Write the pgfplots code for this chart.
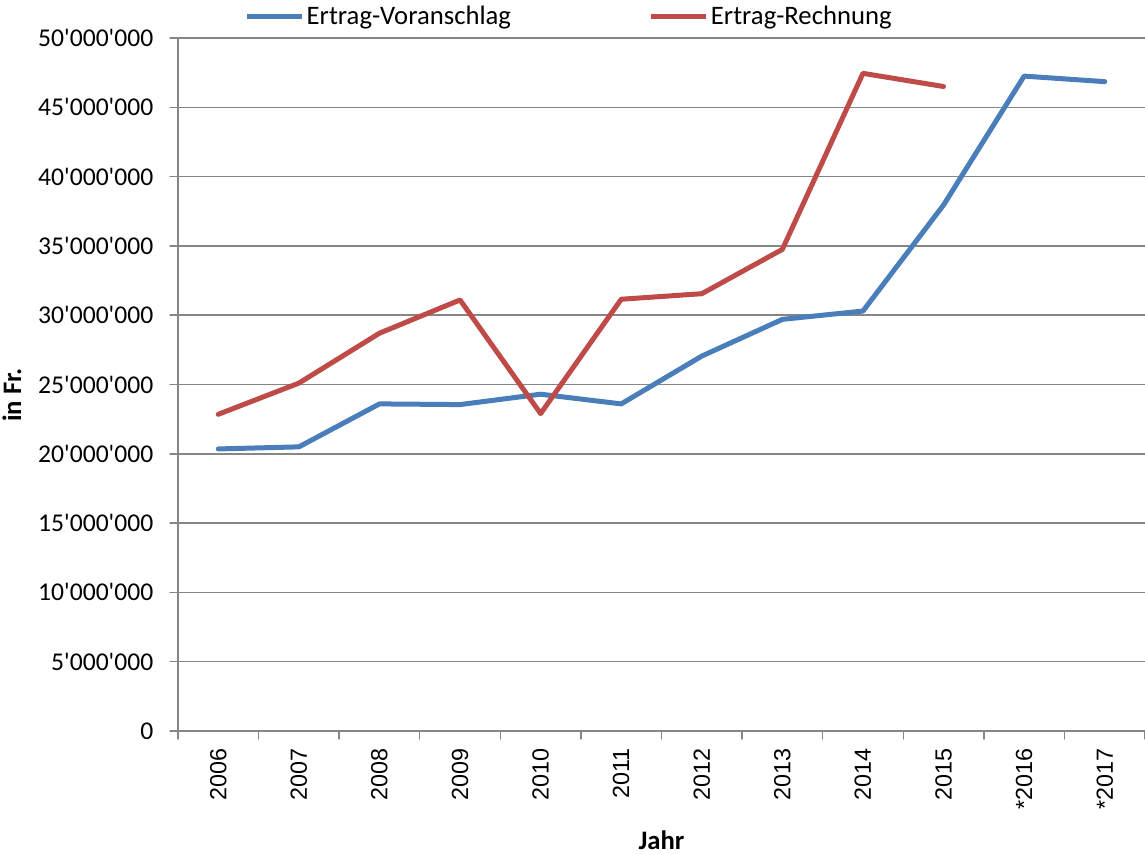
\documentclass[border=0pt]{standalone}
\usepackage{fontspec}
\setmainfont{Carlito}[Ligatures=TeXOff]
\newfontfamily\arialf{Liberation Sans}
\usepackage{pgfplots}
\usepackage{pgfplotstable}
\pgfplotsset{compat=1.18}
\definecolor{ser1}{RGB}{74,126,187}
\definecolor{ser2}{RGB}{190,75,72}
\definecolor{gridc}{RGB}{134,134,134}

\pgfplotstableread{
x v
0 20350000
1 20500000
2 23600000
3 23550000
4 24300000
5 23600000
6 27050000
7 29700000
8 30300000
9 37950000
10 47250000
11 46850000
}\voran

\pgfplotstableread{
x v
0 22850000
1 25100000
2 28700000
3 31100000
4 22900000
5 31150000
6 31550000
7 34750000
8 47450000
9 46500000
}\rechnung

\begin{document}
\begin{tikzpicture}
\begin{axis}[
  scale only axis, width=725.25pt, height=519.75pt,
  xmin=-0.5, xmax=11.5, ymin=0, ymax=50000000,
  scaled y ticks=false,
  axis lines=left, axis line style={gridc, line width=1.1pt, -},
  ytick={0,5000000,10000000,15000000,20000000,25000000,30000000,35000000,40000000,45000000,50000000},
  yticklabels={0,5'000'000,10'000'000,15'000'000,20'000'000,25'000'000,30'000'000,35'000'000,40'000'000,45'000'000,50'000'000},
  xtick={0,1,2,3,4,5,6,7,8,9,10,11},
  xticklabels={2006,2007,2008,2009,2010,2011,2012,2013,2014,2015,*2016,*2017},
  minor xtick={-0.5,0.5,1.5,2.5,3.5,4.5,5.5,6.5,7.5,8.5,9.5,10.5,11.5},
  major x tick style={draw=none},
  tick style={gridc, line width=1.1pt},
  major tick length=6pt, minor tick length=6pt,
  tick align=outside,
  ymajorgrids, grid style={gridc, line width=1.1pt},
  xticklabel style={rotate=90, anchor=east, xshift=-3.75pt, font=\arialf\fontsize{17.5}{20}\selectfont},
  yticklabel style={xshift=-9pt, font=\fontsize{19.2}{23}\selectfont},
  clip=false,
  xlabel={\textbf{Jahr}},
  ylabel={\textbf{in Fr.}},
  every axis x label/.style={at={(rel axis cs:0.5,-0.1573)}, anchor=center, font=\fontsize{20}{24}\selectfont},
  every axis y label/.style={at={(rel axis cs:-0.1717,0.485)}, anchor=center, rotate=90, font=\fontsize{20}{24}\selectfont},
  legend columns=2,
  legend style={at={(rel axis cs:0.0683,1.0317)}, anchor=west, draw=none, fill=none, inner sep=0pt, outer sep=0pt, font=\fontsize{20}{24}\selectfont, /tikz/every even column/.append style={column sep=101pt}},
  legend image code/.code={\draw[#1] (0pt,0pt) -- (41.25pt,0pt);},
  line join=round, line cap=round,
]
\addplot[ser1, line width=3.75pt] table[x=x,y=v] {\voran};
\addlegendentry{Ertrag-Voranschlag}
\addplot[ser2, line width=3.75pt] table[x=x,y=v] {\rechnung};
\addlegendentry{Ertrag-Rechnung}
\end{axis}
\pgfresetboundingbox
\path ([xshift=-133.5pt,yshift=-93pt]current axis.south west) rectangle ([yshift=28.5pt]current axis.north east);
\end{tikzpicture}
\end{document}
